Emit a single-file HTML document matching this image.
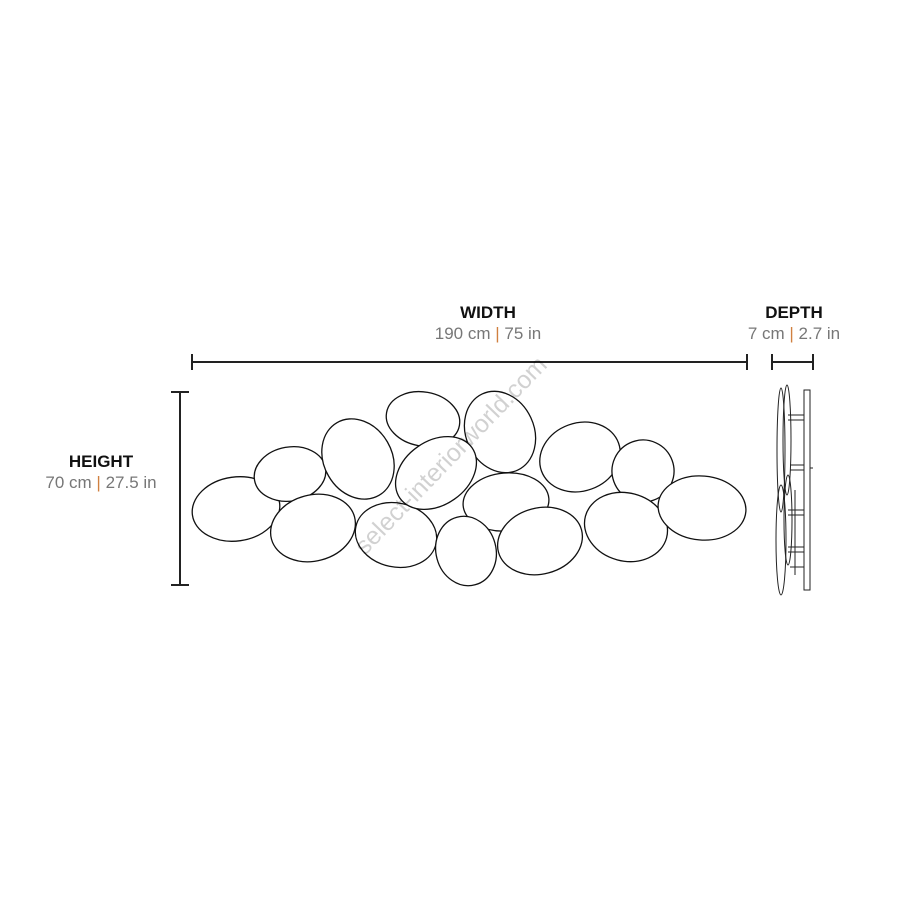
<!DOCTYPE html>
<html><head><meta charset="utf-8"><style>
body{margin:0;background:#fff;width:900px;height:900px;overflow:hidden;font-family:"Liberation Sans",sans-serif}
</style></head><body>
<svg width="900" height="900" viewBox="0 0 900 900" xmlns="http://www.w3.org/2000/svg">
<g font-family="Liberation Sans, sans-serif" text-anchor="middle">
<text x="488" y="318" font-size="17" font-weight="bold" fill="#111">WIDTH</text>
<text x="488" y="339" font-size="17" fill="#777">190 cm <tspan fill="#d08040">|</tspan> 75 in</text>
<text x="794" y="318" font-size="17" font-weight="bold" fill="#111">DEPTH</text>
<text x="794" y="339" font-size="17" fill="#777">7 cm <tspan fill="#d08040">|</tspan> 2.7 in</text>
<text x="101" y="467" font-size="17" font-weight="bold" fill="#111">HEIGHT</text>
<text x="101" y="488" font-size="17" fill="#777">70 cm <tspan fill="#d08040">|</tspan> 27.5 in</text>
</g>
<g stroke="#222" stroke-width="2" fill="none">
<line x1="192" y1="362" x2="747" y2="362"/><line x1="192" y1="354" x2="192" y2="370"/><line x1="747" y1="354" x2="747" y2="370"/>
<line x1="772" y1="362" x2="813" y2="362"/><line x1="772" y1="354" x2="772" y2="370"/><line x1="813" y1="354" x2="813" y2="370"/>
<line x1="180" y1="392" x2="180" y2="585"/><line x1="171" y1="392" x2="189" y2="392"/><line x1="171" y1="585" x2="189" y2="585"/>
</g>
<g stroke="#111" stroke-width="1.3" fill="#fff">
<ellipse cx="236" cy="509" rx="44" ry="32" transform="rotate(-8 236 509)"/>
<ellipse cx="290" cy="474" rx="36" ry="27" transform="rotate(-10 290 474)"/>
<ellipse cx="358" cy="459" rx="34" ry="42" transform="rotate(-30 358 459)"/>
<ellipse cx="423" cy="419" rx="37" ry="27" transform="rotate(10 423 419)"/>
<ellipse cx="500" cy="432" rx="34" ry="42" transform="rotate(-25 500 432)"/>
<ellipse cx="313" cy="528" rx="43" ry="33" transform="rotate(-15 313 528)"/>
<ellipse cx="396" cy="535" rx="41" ry="32" transform="rotate(12 396 535)"/>
<ellipse cx="506" cy="502" rx="43" ry="29" transform="rotate(-5 506 502)"/>
<ellipse cx="436" cy="473" rx="44" ry="32" transform="rotate(-35 436 473)"/>
<ellipse cx="466" cy="551" rx="30" ry="35" transform="rotate(-15 466 551)"/>
<ellipse cx="540" cy="541" rx="43" ry="33" transform="rotate(-15 540 541)"/>
<ellipse cx="580" cy="457" rx="41" ry="34" transform="rotate(-20 580 457)"/>
<ellipse cx="643" cy="471" rx="31" ry="31" transform="rotate(-20 643 471)"/>
<ellipse cx="626" cy="527" rx="42" ry="34" transform="rotate(15 626 527)"/>
<ellipse cx="702" cy="508" rx="44" ry="32" transform="rotate(5 702 508)"/>
</g>
<g stroke="#222" stroke-width="1" fill="none">
<rect x="804" y="390" width="6" height="200"/>
<ellipse cx="781" cy="450" rx="4" ry="62"/>
<ellipse cx="787" cy="440" rx="4" ry="55"/>
<ellipse cx="781" cy="540" rx="5" ry="55"/>
<ellipse cx="788" cy="520" rx="4" ry="45"/>
<line x1="788" y1="415" x2="804" y2="415"/><line x1="788" y1="420" x2="804" y2="420"/>
<line x1="790" y1="465" x2="804" y2="465"/><line x1="790" y1="470" x2="804" y2="470"/>
<line x1="810" y1="468" x2="813" y2="468"/>
<line x1="788" y1="510" x2="804" y2="510"/><line x1="788" y1="515" x2="804" y2="515"/>
<line x1="788" y1="547" x2="804" y2="547"/><line x1="788" y1="552" x2="804" y2="552"/>
<line x1="790" y1="567" x2="804" y2="567"/>
<line x1="795" y1="490" x2="795" y2="575"/>
</g>
<text x="0" y="0" font-family="Liberation Sans, sans-serif" font-size="25" fill="#000" fill-opacity="0.18" transform="translate(365 556) rotate(-46)">select-interiorworld.com</text>
</svg>
</body></html>
